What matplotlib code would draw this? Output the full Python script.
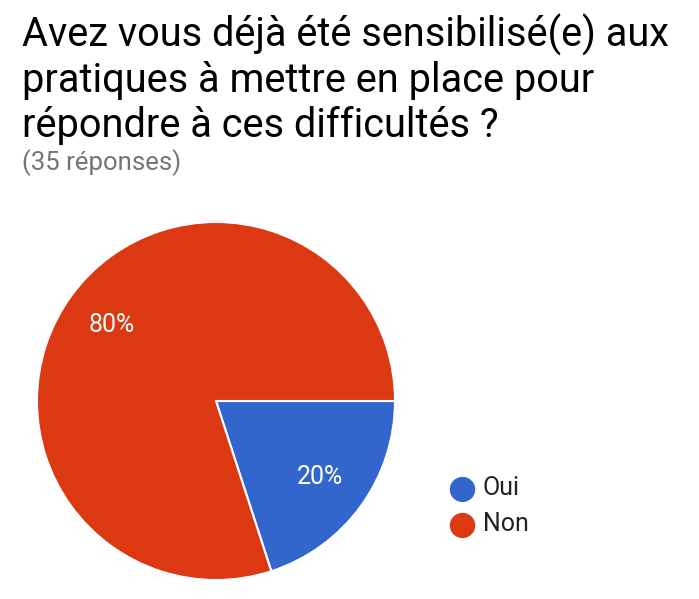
import numpy as np
import matplotlib.pyplot as plt

# data
labels = ["Oui", "Non"]
counts = [7, 28]
colors = ["#3366cc", "#dc3912"]
title = "Avez vous déjà été sensibilisé(e) aux\npratiques à mettre en place pour\nrépondre à ces difficultés ?"
subtitle = "(35 réponses)"

plt.rcParams['font.family'] = ['Roboto', 'DejaVu Sans']

W, H = 699, 599
fig = plt.figure(figsize=(W / 100, H / 100), dpi=100)

fig.text(22 / W, 1 - 14 / H, title, fontsize=28.6, color="#000000",
         va="top", ha="left", linespacing=1.17)
fig.text(22 / W, 1 - 149 / H, subtitle, fontsize=18.5, color="#757575",
         va="top", ha="left")

# pie axes
ax = fig.add_axes([37 / W, 19 / H, 358 / W, 358 / H])
wedges, texts, autotexts = ax.pie(
    counts, colors=colors, startangle=0, counterclock=False,
    autopct=lambda p: f"{p:.0f}%", pctdistance=0.72,
    wedgeprops=dict(edgecolor="white", linewidth=1.5),
    textprops=dict(color="white", fontsize=18))
ax.set_xlim(-1, 1)
ax.set_ylim(-1, 1)
ax.set_aspect("equal")
ax.axis("off")

# legend
leg_y = [488, 524]
for lab, col, y in zip(labels, colors, leg_y):
    fig.text(462 / W, 1 - y / H, "●", color=col, fontsize=24,
             ha="center", va="center", family="DejaVu Sans")
    fig.text(483 / W, 1 - y / H, lab, color="#222222", fontsize=18,
             ha="left", va="center")

fig.savefig("out.png", dpi=100)
